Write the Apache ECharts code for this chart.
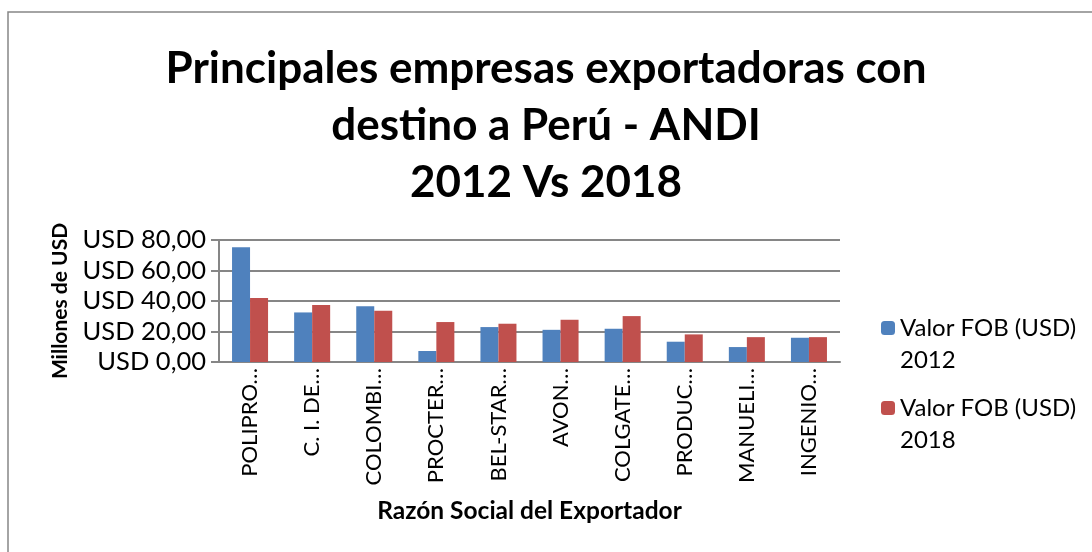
<!DOCTYPE html>
<html>
<head>
<meta charset="utf-8">
<title>Principales empresas exportadoras con destino a Perú - ANDI</title>
<script src="https://cdn.jsdelivr.net/npm/echarts@6/dist/echarts.min.js"></script>
<style>
  html, body { margin: 0; padding: 0; background: #fff; }
  #chart { width: 1092px; height: 552px; }
</style>
</head>
<body>
<div id="chart"></div>
<script>
var chartDom = document.getElementById('chart');
var myChart = echarts.init(chartDom);
var option;

// categorías (tal como aparecen recortadas en el gráfico)
const empresas = ['POLIPRO…', 'C. I. DE…', 'COLOMBI…', 'PROCTER…', 'BEL-STAR…',
  'AVON…', 'COLGATE…', 'PRODUC…', 'MANUELI…', 'INGENIO…'];

// millones de USD
const fob2012 = [75.2, 32.5, 36.6, 7.2, 22.9, 21.1, 21.8, 13.3, 9.8, 15.9];
const fob2018 = [41.9, 37.3, 33.6, 26.2, 25.1, 27.7, 30.1, 18.1, 16.3, 16.3];

const serieNames = ['Valor FOB (USD) 2012', 'Valor FOB (USD) 2018'];

const font = 'Lato, "Noto Sans", sans-serif';
const gris = '#868686';

function usd(v) {
  return 'USD ' + v.toFixed(2).replace('.', ',');
}

option = {
  animation: false,
  textStyle: { fontFamily: font, color: '#000' },
  title: {
    text: 'Principales empresas exportadoras con\ndestino a Perú - ANDI\n2012 Vs 2018',
    left: 'center',
    top: 35,
    textStyle: {
      fontFamily: font,
      fontSize: 44,
      fontWeight: 'bold',
      lineHeight: 57,
      color: '#000'
    }
  },
  graphic: [{
    type: 'rect',
    shape: { x: 8, y: 12, width: 1120, height: 600 },
    style: { fill: 'none', stroke: gris, lineWidth: 1.5 },
    silent: true
  }],
  legend: {
    orient: 'vertical',
    left: 876,
    top: 275,
    itemWidth: 14,
    itemHeight: 14,
    itemGap: -16,
    data: serieNames,
    formatter: function (name) {
      var p = name.lastIndexOf(' ');
      return '\n' + name.slice(0, p) + '\n' + name.slice(p + 1);
    },
    textStyle: { fontFamily: font, fontSize: 24, lineHeight: 32, color: '#000' }
  },
  grid: { left: 219, right: 252, top: 240, bottom: 190 },
  xAxis: {
    type: 'category',
    data: empresas,
    name: 'Razón Social del Exportador',
    nameLocation: 'middle',
    nameGap: 137,
    nameTextStyle: { fontFamily: font, fontSize: 24.5, fontWeight: 'bold', color: '#000' },
    axisLine: { lineStyle: { color: gris, width: 2 } },
    axisTick: { show: false },
    axisLabel: { rotate: 90, margin: 6, fontSize: 22, color: '#000', fontFamily: font }
  },
  yAxis: {
    type: 'value',
    min: 0,
    max: 80,
    interval: 20,
    name: 'Millones de USD',
    nameLocation: 'middle',
    nameGap: 148,
    nameTextStyle: { fontFamily: font, fontSize: 21, fontWeight: 'bold', color: '#000' },
    axisLine: { show: true, lineStyle: { color: gris, width: 2 } },
    axisTick: { show: true, length: 8, lineStyle: { color: gris, width: 2 } },
    splitLine: { lineStyle: { color: gris, width: 2 } },
    axisLabel: { formatter: usd, margin: 13, fontSize: 25.5, color: '#000', fontFamily: font }
  },
  series: [
    {
      name: serieNames[0],
      type: 'bar',
      data: fob2012,
      barGap: '0%',
      barCategoryGap: '42%',
      itemStyle: { color: '#4F81BD' }
    },
    {
      name: serieNames[1],
      type: 'bar',
      data: fob2018,
      barGap: '0%',
      barCategoryGap: '42%',
      itemStyle: { color: '#C0504D' }
    }
  ]
};

option && myChart.setOption(option);
</script>
</body>
</html>
